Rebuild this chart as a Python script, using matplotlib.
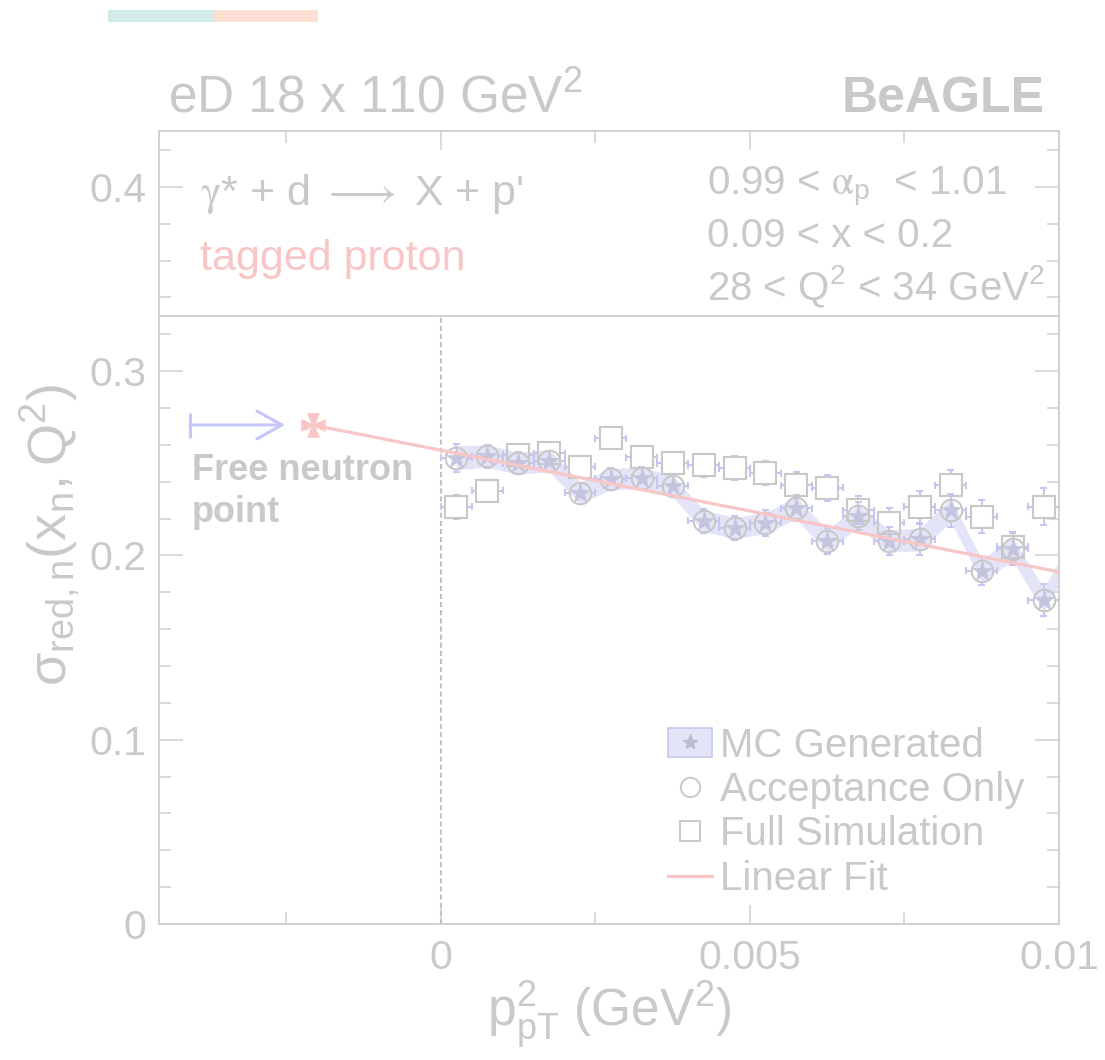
"""
Reduced cross section of the neutron from tagged-proton deuteron DIS
(BeAGLE, eD 18 x 110 GeV^2), plotted against the proton transverse momentum
squared, with the linear extrapolation to the free neutron pole.
"""

import matplotlib.pyplot as plt
import numpy as np
from matplotlib.collections import LineCollection
from matplotlib.lines import Line2D
from matplotlib.patches import Patch, Rectangle
from matplotlib.path import Path
from matplotlib.ticker import FuncFormatter, MultipleLocator

plt.rcParams["font.family"] = ["Liberation Sans", "DejaVu Sans"]
plt.rcParams["mathtext.fontset"] = "custom"
plt.rcParams["mathtext.rm"] = "Liberation Sans"
plt.rcParams["mathtext.it"] = "Liberation Sans:italic"
plt.rcParams["mathtext.bf"] = "Liberation Sans:bold"

# p_T^2 bin centres (GeV^2) and half widths
pt2 = [0.00025, 0.00075, 0.00125, 0.00175, 0.00225, 0.00275, 0.00325,
       0.00375, 0.00425, 0.00475, 0.00525, 0.00575, 0.00625, 0.00675,
       0.00725, 0.00775, 0.00825, 0.00875, 0.00925, 0.00975]
pt2_halfwidth = 0.00025

# MC generated (band); the last bin sits just past the plotted range
mc_pt2 = pt2 + [0.01025]
mc_sigma = [0.2530, 0.2539, 0.2500, 0.2514, 0.2340, 0.2415, 0.2420, 0.2377,
            0.2187, 0.2149, 0.2176, 0.2257, 0.2078, 0.2214, 0.2078, 0.2087,
            0.2246, 0.1917, 0.2035, 0.1758, 0.2050]
mc_err = [0.0065, 0.0062, 0.0060, 0.0060, 0.0058, 0.0058, 0.0058, 0.0058,
          0.0058, 0.0058, 0.0058, 0.0060, 0.0060, 0.0060, 0.0060, 0.0062,
          0.0062, 0.0062, 0.0064, 0.0064, 0.0064]

# acceptance only
acc_sigma = [0.2530, 0.2539, 0.2500, 0.2514, 0.2340, 0.2415, 0.2420, 0.2377,
             0.2187, 0.2149, 0.2176, 0.2257, 0.2078, 0.2214, 0.2078, 0.2087,
             0.2246, 0.1917, 0.2035, 0.1758]
acc_err = [0.0075, 0.0062, 0.0060, 0.0056, 0.0054, 0.0060, 0.0060, 0.0062,
           0.0065, 0.0065, 0.0068, 0.0070, 0.0072, 0.0075, 0.0078, 0.0086,
           0.0090, 0.0077, 0.0085, 0.0089]

# full simulation
full_sigma = [0.2263, 0.2351, 0.2545, 0.2554, 0.2481, 0.2637, 0.2534, 0.2501,
              0.2490, 0.2474, 0.2447, 0.2382, 0.2366, 0.2246, 0.2176, 0.2264,
              0.2382, 0.2210, 0.2047, 0.2264]
full_err = [0.0063, 0.0060, 0.0055, 0.0055, 0.0056, 0.0056, 0.0058, 0.0060,
            0.0062, 0.0064, 0.0066, 0.0070, 0.0072, 0.0075, 0.0080, 0.0087,
            0.0081, 0.0090, 0.0080, 0.0100]

# linear fit, extrapolated to the free neutron point
fit_intercept = 0.2571
fit_slope = -6.6
free_pt2 = -0.00207
free_sigma = 0.2708
arrow_start, arrow_end = -0.00406, -0.00252

TEXT = "#c9c9c9"
FRAME = "#d0d0d0"
PINK = "#f8c6c6"
BAND = "#e4e4f8"
BAND_EDGE = "#c8c8f0"
STAR = "#c4c4dc"
ERR = "#c6c6f0"
EDGE = "#c8c8c8"
ARROW = "#c6c6f8"


def maltese_cross():
    i, w = 0.12, 0.5
    verts = [(-i, i), (-w, 1), (w, 1), (i, i), (1, w), (1, -w), (i, -i),
             (w, -1), (-w, -1), (-i, -i), (-1, -w), (-1, w), (-i, i)]
    return Path(verts, closed=True)


def gapped_errors(ax, x, y, xerr, yerr, gap_px, cap_px, zorder):
    # ROOT-style error bars that stop at the marker edge
    sx = ax.bbox.width / np.ptp(ax.get_xlim())
    sy = ax.bbox.height / np.ptp(ax.get_ylim())
    gx, gy = gap_px / sx, gap_px / sy
    cx, cy = cap_px / sx, cap_px / sy
    segs = []
    for xi, yi, ey in zip(x, y, yerr):
        if ey > gy:
            segs += [[(xi, yi + gy), (xi, yi + ey)],
                     [(xi, yi - gy), (xi, yi - ey)],
                     [(xi - cx, yi + ey), (xi + cx, yi + ey)],
                     [(xi - cx, yi - ey), (xi + cx, yi - ey)]]
        if xerr > gx:
            segs += [[(xi + gx, yi), (xi + xerr, yi)],
                     [(xi - gx, yi), (xi - xerr, yi)],
                     [(xi + xerr, yi - cy), (xi + xerr, yi + cy)],
                     [(xi - xerr, yi - cy), (xi - xerr, yi + cy)]]
    ax.add_collection(LineCollection(segs, colors=ERR, linewidths=1.5,
                                     zorder=zorder))


fig = plt.figure(figsize=(11.05, 10.6), dpi=100)
ax = fig.add_axes([0.1439, 0.1283, 0.8145, 0.7481])
ax.set_xlim(-0.00456, 0.01)
ax.set_ylim(0, 0.4303)

# colour strip at the top left
fig.add_artist(Rectangle((108 / 1105, 1 - 22 / 1060), 106 / 1105, 12 / 1060,
                         transform=fig.transFigure, color="#d2ebe6", lw=0))
fig.add_artist(Rectangle((214 / 1105, 1 - 22 / 1060), 104 / 1105, 12 / 1060,
                         transform=fig.transFigure, color="#fbdfd2", lw=0))

# MC generated band
mc_lo = np.array(mc_sigma) - np.array(mc_err)
mc_hi = np.array(mc_sigma) + np.array(mc_err)
ax.fill_between(mc_pt2, mc_lo, mc_hi, color=BAND, lw=0, zorder=1)

ax.vlines(0, 0, 0.33, colors="#c2c2c2", linestyles=(0, (2.4, 1.5)),
          lw=1.5, zorder=2)
ax.axhline(0.33, color=FRAME, lw=1.4, zorder=2)

gapped_errors(ax, pt2, full_sigma, pt2_halfwidth, full_err, 11, 3.5, 2)
gapped_errors(ax, pt2, acc_sigma, pt2_halfwidth, acc_err, 11, 3.5, 2)

ax.plot(pt2, full_sigma, ls="none", marker="s", ms=15.5, mfc="none",
        mec=EDGE, mew=1.5, zorder=3)
ax.plot(pt2, acc_sigma, ls="none", marker="o", ms=15.5, mfc="none",
        mec=EDGE, mew=1.5, zorder=3)
ax.plot(mc_pt2, mc_sigma, ls="none", marker="*", ms=15.5, mfc=STAR,
        mec=STAR, mew=0.5, zorder=4)

fit_x = np.array([free_pt2, 0.01])
ax.plot(fit_x, fit_intercept + fit_slope * fit_x, color=PINK, lw=2.3,
        zorder=5)
ax.plot([free_pt2], [free_sigma], ls="none", marker=maltese_cross(),
        ms=17, mfc=PINK, mec=PINK, mew=0.5, zorder=6)

# arrow pointing at the free neutron point
ax.annotate("", xy=(arrow_end, free_sigma), xytext=(arrow_start, free_sigma),
            arrowprops=dict(arrowstyle="->, head_length=0.9, head_width=0.5",
                            color=ARROW, lw=2.2, mutation_scale=20,
                            shrinkA=0, shrinkB=0), zorder=6)
ax.plot([arrow_start], [free_sigma], ls="none", marker="|", ms=18,
        mew=2.2, color=ARROW, zorder=6)

# axes styling
for s in ax.spines.values():
    s.set_color(FRAME)
    s.set_linewidth(1.4)
ax.xaxis.set_major_locator(MultipleLocator(0.005))
ax.xaxis.set_minor_locator(MultipleLocator(0.0025))
ax.yaxis.set_major_locator(MultipleLocator(0.1))
ax.yaxis.set_minor_locator(MultipleLocator(0.02))
ax.xaxis.set_major_formatter(FuncFormatter(lambda v, _: f"{v:g}"))
ax.yaxis.set_major_formatter(FuncFormatter(lambda v, _: f"{v:g}"))
ax.tick_params(which="both", direction="in", top=True, right=True,
               color=FRAME, width=1.1, labelcolor=TEXT, labelsize=29.5)
ax.tick_params(axis="y", which="major", length=17, pad=9)
ax.tick_params(axis="x", which="major", length=14, pad=11)
ax.tick_params(which="minor", length=8.5)

ax.set_xlabel(r"$\mathregular{p^{2}_{pT}\ (GeV^{2})}$", color=TEXT,
              fontsize=37)
ax.xaxis.set_label_coords(0.5, -0.068)
ax.xaxis.label.set_va("top")
ax.set_ylabel(r"$\mathregular{σ_{red, n}(x_{n}, Q^{2})}$", color=TEXT,
              fontsize=39)
ax.yaxis.set_label_coords(-0.084, 0.49)

# annotations
ax.text(0.0456, 0.9067, r"$\mathrm{\gamma}$* + d $\longrightarrow$ X + p'",
        transform=ax.transAxes, color=TEXT, fontsize=31,
        math_fontfamily="stix")
ax.text(0.0456, 0.8247, "tagged proton", transform=ax.transAxes,
        color=PINK, fontsize=31)
ax.text(0.6089, 0.9193, r"0.99 < $\mathrm{\alpha}_{\mathregular{p}}$  < 1.01",
        transform=ax.transAxes, color=TEXT, fontsize=29,
        math_fontfamily="stix")
ax.text(0.6089, 0.8537, "0.09 < x < 0.2", transform=ax.transAxes,
        color=TEXT, fontsize=29)
ax.text(0.6089, 0.7869, r"28 < Q$^{\mathregular{2}}$ < 34 GeV$^{\mathregular{2}}$",
        transform=ax.transAxes, color=TEXT, fontsize=29)
ax.text(0.0367, 0.5599, "Free neutron", transform=ax.transAxes,
        color=TEXT, fontsize=26, fontweight="bold")
ax.text(0.0367, 0.5069, "point", transform=ax.transAxes,
        color=TEXT, fontsize=26, fontweight="bold")

fig.text(0.152, 0.8943, r"eD 18 x 110 GeV$^{\mathregular{2}}$", color=TEXT,
         fontsize=37)
fig.text(0.9457, 0.8943, "BeAGLE", color=TEXT, fontsize=36,
         fontweight="bold", ha="right")

handles = [
    (Patch(facecolor=BAND, edgecolor=BAND_EDGE, lw=1.2),
     Line2D([], [], ls="none", marker="*", ms=11, color="#bcbccc")),
    Line2D([], [], ls="none", marker="o", ms=14, mfc="none", mec=EDGE,
           mew=1.4),
    Line2D([], [], ls="none", marker="s", ms=14, mfc="none", mec=EDGE,
           mew=1.4),
    Line2D([], [], color=PINK, lw=2.3),
]
labels = ["MC Generated", "Acceptance Only", "Full Simulation", "Linear Fit"]
leg = ax.legend(handles, labels, loc="upper left",
                bbox_to_anchor=(0.566, 0.249), frameon=False, fontsize=29,
                borderpad=0, borderaxespad=0, handlelength=1.07,
                handletextpad=0.22, labelspacing=0.16)
for t in leg.get_texts():
    t.set_color(TEXT)

fig.savefig("out.png", dpi=100)
